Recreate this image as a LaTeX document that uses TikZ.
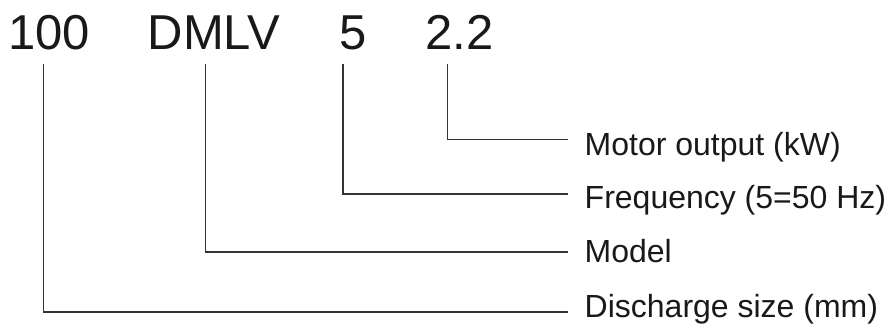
\documentclass[tikz,border=0pt]{standalone}
\usepackage{fontspec}
\setmainfont{Liberation Sans}
\begin{document}
\begin{tikzpicture}[x=1pt,y=1pt,
  codetext/.style={font=\fontsize{49}{55}\selectfont, inner sep=0pt, anchor=base, text=black!90},
  labeltext/.style={font=\fontsize{32}{36}\selectfont, inner sep=0pt, anchor=base west, text=black!90},
  leader/.style={line width=1.5pt, draw=black!80}]
\useasboundingbox (0,0) rectangle (891,324);
% code parts
\node[codetext] (c100) at (49,274) {100};
\node[codetext] (cdmlv) at (214,274) {DMLV};
\node[codetext] (cfive) at (353.5,274) {5};
\node[codetext] (ckw) at (459.5,274) {2.2};
% labels
\node[labeltext] (lmotor) at (584.5,168) {Motor output (kW)};
\node[labeltext] (lfreq) at (584.5,115.5) {Frequency (5=50 Hz)};
\node[labeltext] (lmodel) at (584.5,61) {Model};
\node[labeltext] (ldis) at (584.5,7) {Discharge size (mm)};
% leader start and end points
\coordinate (s100) at (43.7,260);
\coordinate (sdmlv) at (205.3,260);
\coordinate (sfive) at (343,260);
\coordinate (skw) at (447.3,260);
\coordinate (emotor) at (568,184.7);
\coordinate (efreq) at (568,130);
\coordinate (emodel) at (568,72);
\coordinate (edis) at (568,12);
% leaders
\draw[leader] (skw) |- (emotor);
\draw[leader] (sfive) |- (efreq);
\draw[leader] (sdmlv) |- (emodel);
\draw[leader] (s100) |- (edis);
\end{tikzpicture}
\end{document}
